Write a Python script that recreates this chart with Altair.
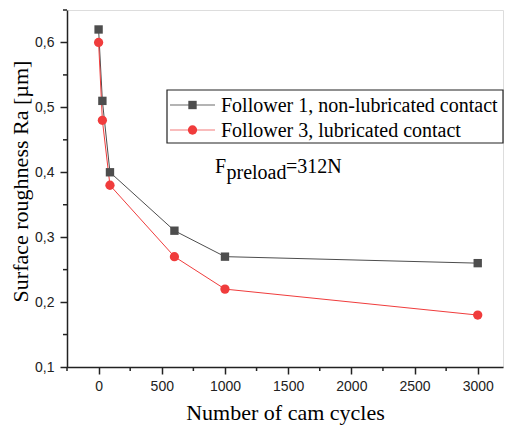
import altair as alt
import pandas as pd

# ---- data ----
cycles = [0, 30, 90, 600, 1000, 3000]
follower1_ra = [0.62, 0.51, 0.40, 0.31, 0.27, 0.26]
follower3_ra = [0.60, 0.48, 0.38, 0.27, 0.22, 0.18]
series_names = ["Follower 1, non-lubricated contact", "Follower 3, lubricated contact"]

x_major = [0, 500, 1000, 1500, 2000, 2500, 3000]
x_minor = [-250, 250, 750, 1250, 1750, 2250, 2750]
y_major = [0.1, 0.2, 0.3, 0.4, 0.5, 0.6]
y_minor = [0.15, 0.25, 0.35, 0.45, 0.55, 0.65]

x_title = "Number of cam cycles"
y_title = "Surface roughness Ra [µm]"
annot_main = ["F"]
annot_sub = ["preload"]
annot_tail = ["=312N"]

rows = []
for c, v in zip(cycles, follower1_ra):
    rows.append({"cycles": c, "ra": v, "series": series_names[0]})
for c, v in zip(cycles, follower3_ra):
    rows.append({"cycles": c, "ra": v, "series": series_names[1]})
df = pd.DataFrame(rows)

dark = "#4d4d4d"
red = "#f03c3c"
axis_col = "#222222"

xscale = alt.Scale(domain=[-250, 3200], nice=False, zero=False)
yscale = alt.Scale(domain=[0.1, 0.65], nice=False, zero=False)

axis_common = dict(
    domainColor=axis_col, domainWidth=1.5, tickColor=axis_col, tickWidth=1.5,
    labelFont="Liberation Sans", labelFontSize=14, labelColor=axis_col,
    grid=False, titleFont="Liberation Serif", titleFontSize=22,
    titleFontWeight="normal", titleColor="#000000",
)

x_enc = alt.X("cycles:Q", scale=xscale, axis=alt.Axis(
    values=x_major, format="d", tickSize=7, labelPadding=5, orient="bottom",
    title=x_title, titleY=52, titleBaseline="alphabetic", labelFlush=False,
    **axis_common))
y_enc = alt.Y("ra:Q", scale=yscale, axis=alt.Axis(
    values=y_major, labelExpr="replace(format(datum.value, '.1f'), '.', ',')",
    tickSize=7, labelPadding=6, orient="left", title=y_title,
    titleX=-40, titleY=171, titleAngle=-90, titleAlign="center",
    titleBaseline="alphabetic", labelFlush=False, **axis_common))

x_plain = alt.X("cycles:Q", scale=xscale)
y_plain = alt.Y("ra:Q", scale=yscale)

base = alt.Chart(df)

lines = base.mark_line(strokeWidth=1).encode(
    x=x_enc, y=y_enc,
    color=alt.Color("series:N", scale=alt.Scale(domain=series_names, range=[dark, red]), legend=None),
)

pts1 = base.transform_filter(alt.datum.series == series_names[0]).mark_point(
    shape="square", filled=True, size=70, color=dark, opacity=1).encode(x=x_plain, y=y_plain)
pts3 = base.transform_filter(alt.datum.series == series_names[1]).mark_point(
    shape="circle", filled=True, size=86, color=red, opacity=1).encode(x=x_plain, y=y_plain)

# minor ticks drawn from the minor tick value lists
minor_x = alt.Chart(pd.DataFrame({"v": x_minor})).mark_rule(
    color=axis_col, strokeWidth=1.5).encode(
    x=alt.X("v:Q", scale=xscale), y=alt.value(357), y2=alt.value(361))
minor_y = alt.Chart(pd.DataFrame({"v": y_minor})).mark_rule(
    color=axis_col, strokeWidth=1.5).encode(
    y=alt.Y("v:Q", scale=yscale), x=alt.value(-4), x2=alt.value(0))

# legend (drawn by hand, Origin-style)
one = pd.DataFrame({"k": [0]})
leg_box = alt.Chart(one).mark_rect(fill="#ffffff", stroke=axis_col, strokeWidth=1.2).encode(
    x=alt.value(100), x2=alt.value(436), y=alt.value(80), y2=alt.value(133))
leg_layers = [leg_box]
leg_styles = [(dark, "#6a6a6a", "square", 70), (red, "#f47a7a", "circle", 86)]
for i, name in enumerate(series_names):
    fillc, linec, shp, sz = leg_styles[i]
    yy = 95 + 25 * i
    d = pd.DataFrame({"label": [name]})
    leg_layers.append(alt.Chart(d).mark_rule(color=linec, strokeWidth=1.2).encode(
        x=alt.value(103), x2=alt.value(148), y=alt.value(yy)))
    leg_layers.append(alt.Chart(d).mark_point(shape=shp, filled=True, size=sz, color=fillc, opacity=1).encode(
        x=alt.value(125.5), y=alt.value(yy)))
    leg_layers.append(alt.Chart(d).mark_text(
        align="left", baseline="middle", font="Liberation Serif", fontSize=20, color="#000000").encode(
        text="label:N", x=alt.value(154), y=alt.value(yy + 1)))

t_main = alt.Chart(pd.DataFrame({"t": annot_main})).mark_text(
    align="left", baseline="alphabetic", font="Liberation Serif", fontSize=20, color="#000000"
).encode(text="t:N", x=alt.value(148), y=alt.value(163))
t_sub = alt.Chart(pd.DataFrame({"t": annot_sub})).mark_text(
    align="left", baseline="alphabetic", font="Liberation Serif", fontSize=20, color="#000000"
).encode(text="t:N", x=alt.value(159.5), y=alt.value(169))
t_tail = alt.Chart(pd.DataFrame({"t": annot_tail})).mark_text(
    align="left", baseline="alphabetic", font="Liberation Serif", fontSize=20, color="#000000"
).encode(text="t:N", x=alt.value(219), y=alt.value(163))

chart = alt.layer(
    lines, minor_x, minor_y, pts1, pts3, *leg_layers, t_main, t_sub, t_tail
).properties(
    width=436, height=357,
    autosize=alt.AutoSizeParams(type="none"),
    padding={"left": 67, "top": 10, "right": 3, "bottom": 61},
).configure_view(stroke=None).configure(background="#ffffff")

chart.save("out.html", embed_options={"renderer": "svg", "actions": False})
